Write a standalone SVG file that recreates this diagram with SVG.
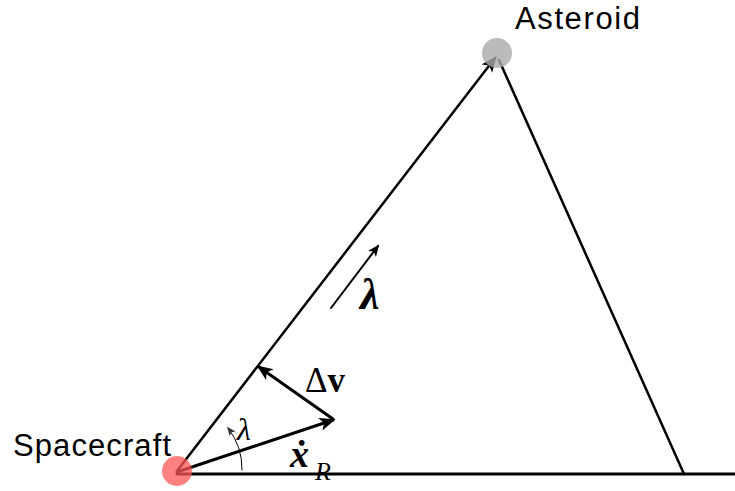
<svg xmlns="http://www.w3.org/2000/svg" width="735" height="491" viewBox="0 0 735 491">
<style>
.ln{stroke:#000;fill:none;stroke-linecap:round}
.lbl{font-family:"Liberation Sans","Open Sans",sans-serif;font-size:31px;fill:#000}
.m{font-family:"Liberation Serif","DejaVu Serif",serif;fill:#000}
</style>
<defs>
<marker id="ah" viewBox="0 0 12 10" refX="10" refY="5" markerWidth="12" markerHeight="10" markerUnits="userSpaceOnUse" orient="auto">
<path d="M0,0 L12,5 L0,10 L3,5 z" fill="#000"/>
</marker>
<marker id="ahL" viewBox="0 0 12 10" refX="10" refY="5" markerWidth="16" markerHeight="14" markerUnits="userSpaceOnUse" orient="auto">
<path d="M0,0 L12,5 L0,10 L3,5 z" fill="#000"/>
</marker>
<marker id="ahS" viewBox="0 0 12 10" refX="10" refY="5" markerWidth="9" markerHeight="8" markerUnits="userSpaceOnUse" orient="auto">
<path d="M0,0 L12,5 L0,10 L3,5 z" fill="#333"/>
</marker>
</defs>
<g id="connectors">
<line class="ln" x1="177" y1="474" x2="735" y2="474" stroke-width="3"/>
<line class="ln" x1="177" y1="471" x2="495" y2="58" stroke-width="2.5" marker-end="url(#ahL)"/>
<line class="ln" x1="499" y1="60" x2="684" y2="474" stroke-width="2.5"/>
<line class="ln" x1="331" y1="308" x2="378" y2="246" stroke-width="2" marker-end="url(#ah)"/>
<line class="ln" x1="333" y1="419" x2="259" y2="367" stroke-width="3" marker-end="url(#ahL)"/>
<line class="ln" x1="177" y1="472" x2="333" y2="420" stroke-width="3" marker-end="url(#ahL)"/>
<path class="ln" d="M242,470 A66,66 0 0 0 228,428" stroke="#444" stroke-width="1" marker-end="url(#ahS)"/>
</g>
<g id="asteroid">
<circle cx="497" cy="53" r="15" fill="#aaaaaa" fill-opacity="0.8"/>
<text class="lbl" x="515" y="29" textLength="125">Asteroid</text>
</g>
<g id="spacecraft">
<circle cx="177" cy="471" r="15" fill="#ff5555" fill-opacity="0.75"/>
<text class="lbl" x="13" y="456" textLength="158">Spacecraft</text>
</g>
<g id="labels">
<text class="m" x="360" y="309" font-size="44" font-weight="bold" font-style="italic">λ</text>
<text class="m" x="237" y="440" font-size="32" font-style="italic">λ</text>
<text class="m" x="305" y="392" font-size="35">Δ<tspan font-weight="bold">v</tspan></text>
<text class="m" x="290" y="467" font-size="38" font-weight="bold" font-style="italic">ẋ</text>
<text class="m" x="315" y="480" font-size="26" font-style="italic">R</text>
</g>
</svg>
